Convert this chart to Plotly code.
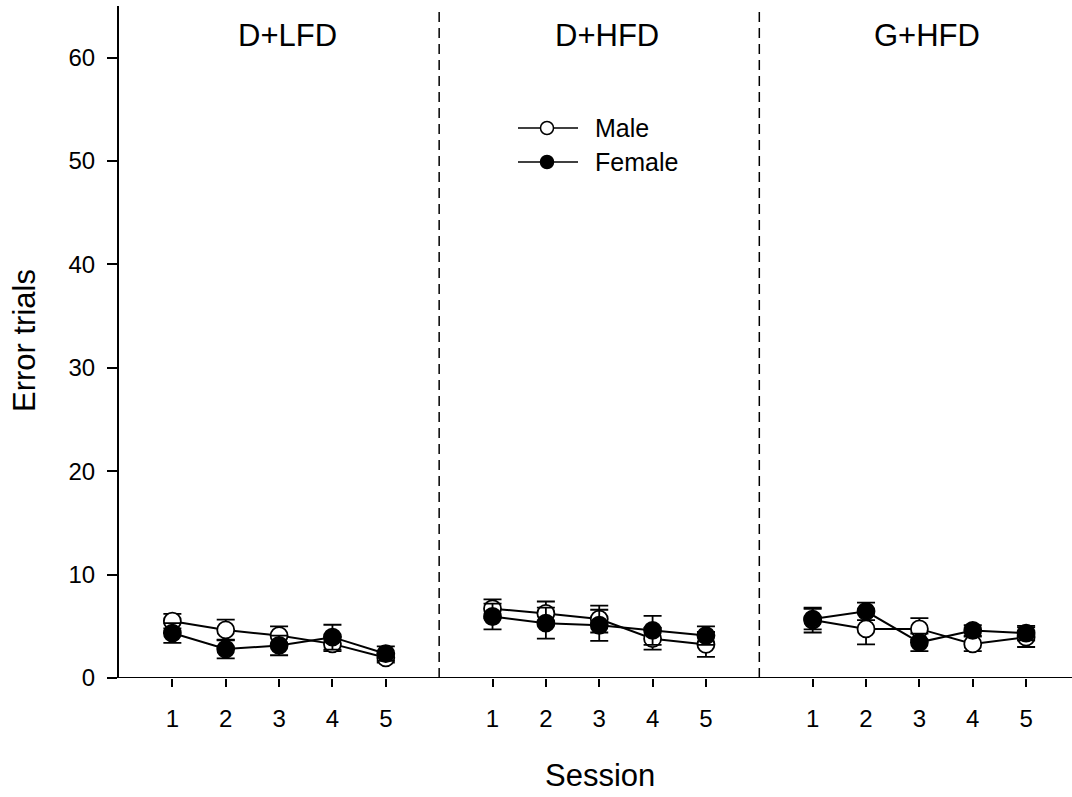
import plotly.graph_objects as go

# Session numbers and diet groups
sessions = [1, 2, 3, 4, 5]
groups = ["D+LFD", "D+HFD", "G+HFD"]

# Mean error trials per session, listed group by group
male_mean = [5.5, 4.65, 4.1, 3.3, 1.95,
             6.7, 6.25, 5.7, 3.8, 3.25,
             5.6, 4.75, 4.75, 3.3, 3.95]
male_err = [0.7, 1.0, 0.9, 0.7, 0.45,
            0.9, 1.15, 1.3, 1.05, 1.2,
            1.2, 1.5, 1.05, 0.7, 0.95]
female_mean = [4.35, 2.8, 3.15, 3.95, 2.35,
               5.95, 5.3, 5.1, 4.6, 4.1,
               5.7, 6.45, 3.45, 4.6, 4.35]
female_err = [0.95, 0.9, 0.95, 1.2, 0.7,
              1.25, 1.5, 1.5, 1.4, 0.9,
              1.0, 0.85, 0.85, 0.5, 0.7]

y_ticks = [0, 10, 20, 30, 40, 50, 60]

FONT = "Arial, Liberation Sans, sans-serif"
GAP = len(sessions) + 1  # one empty slot between groups

# Layout geometry in pixels
W, H = 1072, 797
ML, MT, MB = 119, 6, 119
PW, PH = W - ML, H - MT - MB


def px_x(px):
    return (px - ML) / PW


def px_y(py):
    return (MT + PH - py) / PH


def with_gaps(values):
    out = []
    for g in range(len(groups)):
        out.extend(values[g * len(sessions):(g + 1) * len(sessions)])
        if g < len(groups) - 1:
            out.append(None)
    return out


xs = []
for g in range(len(groups)):
    xs.extend([g * GAP + s for s in sessions])
    if g < len(groups) - 1:
        xs.append(None)

fig = go.Figure()

for name, mean, err, fill in [("Male", male_mean, male_err, "white"),
                              ("Female", female_mean, female_err, "black")]:
    fig.add_trace(go.Scatter(
        x=xs, y=with_gaps(mean), name=name, mode="lines+markers",
        line=dict(color="black", width=2),
        marker=dict(symbol="circle", size=17, color=fill,
                    line=dict(color="black", width=1.8)),
        error_y=dict(type="data", array=with_gaps(err), visible=True,
                     color="black", thickness=1.8, width=9),
        connectgaps=False, showlegend=False, cliponaxis=False,
    ))

tickvals = [g * GAP + s for g in range(len(groups)) for s in sessions]
ticktext = [str(s) for _ in groups for s in sessions]

shapes = []
# x-axis baseline, running slightly left of the y-axis
shapes.append(dict(type="line", xref="paper", yref="y",
                   x0=px_x(110), x1=1, y0=0, y1=0,
                   line=dict(color="black", width=2)))
# dashed separators between diet groups
for g in range(1, len(groups)):
    xv = g * GAP
    shapes.append(dict(type="line", xref="x", yref="paper",
                       x0=xv, x1=xv, y0=0, y1=1,
                       line=dict(color="black", width=1.5, dash="10px,6px")))

# legend drawn by hand: line, circle marker, label
legend_rows = [("Male", "white", 128), ("Female", "black", 162)]
annotations = []
for label, fill, py in legend_rows:
    shapes.append(dict(type="line", xref="paper", yref="paper",
                       x0=px_x(518), x1=px_x(578), y0=px_y(py), y1=px_y(py),
                       line=dict(color="black", width=1.5)))
    r = 6.5
    shapes.append(dict(type="circle", xref="paper", yref="paper",
                       x0=px_x(547 - r), x1=px_x(547 + r),
                       y0=px_y(py + r), y1=px_y(py - r),
                       fillcolor=fill, line=dict(color="black", width=1.5)))
    annotations.append(dict(text=label, xref="paper", yref="paper",
                            x=px_x(593), y=px_y(py), xanchor="left",
                            yanchor="middle", showarrow=False,
                            font=dict(family=FONT, size=25, color="black")))

# group headings
for g, name in enumerate(groups):
    annotations.append(dict(text=name, xref="x", yref="paper",
                            x=g * GAP + 3, y=px_y(35.5), xshift=8,
                            xanchor="center", yanchor="middle",
                            showarrow=False,
                            font=dict(family=FONT, size=31, color="black")))

# axis titles
annotations.append(dict(text="Session", xref="paper", yref="paper",
                        x=px_x(600), y=px_y(775), xanchor="center",
                        yanchor="middle", showarrow=False,
                        font=dict(family=FONT, size=31, color="black")))
annotations.append(dict(text="Error trials", xref="paper", yref="paper",
                        x=px_x(24), y=px_y(341), xanchor="center",
                        yanchor="middle", textangle=-90, showarrow=False,
                        font=dict(family=FONT, size=31, color="black")))

fig.update_layout(
    width=W, height=H,
    margin=dict(l=ML, r=0, t=MT, b=MB, pad=0),
    plot_bgcolor="white", paper_bgcolor="white",
    font=dict(family=FONT, size=24, color="black"),
    shapes=shapes, annotations=annotations,
    xaxis=dict(range=[0, 17.86], tickvals=tickvals, ticktext=ticktext,
               ticks="outside", ticklen=8, tickwidth=2, tickcolor="black",
               showline=False, showgrid=False, zeroline=False,
               ticklabelstandoff=11,
               tickfont=dict(family=FONT, size=24, color="black")),
    yaxis=dict(range=[0, 65], tickvals=y_ticks,
               ticks="outside", ticklen=10, tickwidth=2, tickcolor="black",
               showline=True, linewidth=2, linecolor="black",
               showgrid=False, zeroline=False, ticklabelstandoff=7,
               tickfont=dict(family=FONT, size=24, color="black")),
)

fig.write_html("out.html")
